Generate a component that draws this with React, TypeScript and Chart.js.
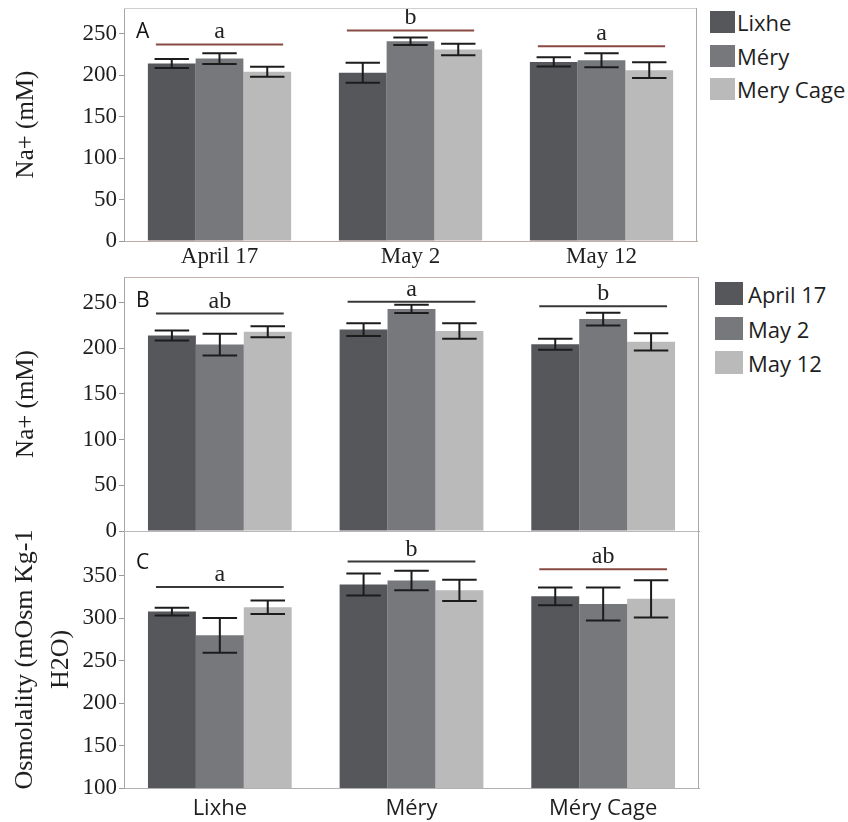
import React, { useEffect, useRef } from 'react';
import { Chart, registerables } from 'chart.js';

Chart.register(...registerables);

const SERIF = '"Liberation Serif", "Times New Roman", serif';
const SANS = '"Open Sans", "Noto Sans", sans-serif';

// ---------- Panel A: Na+ by date, series = site ----------
const datesA = ['April 17', 'May 2', 'May 12'];
const sitesA = ['Lixhe', 'Méry', 'Mery Cage'];
const naA_Lixhe = [214, 203, 216];
const naA_Mery = [220, 241, 218];
const naA_MeryCage = [204, 231, 206];
const naA_LixheErr = [5.5, 12, 5.5];
const naA_MeryErr = [6.5, 4.5, 8.5];
const naA_MeryCageErr = [6, 7, 9.5];
const sigA_levels = [237, 254, 235];
const sigA_letters = ['a', 'b', 'a'];
const ticksNa = [0, 50, 100, 150, 200, 250];

// ---------- Panel B: Na+ by site, series = date ----------
const sitesB = ['Lixhe', 'Méry', 'Méry Cage'];
const datesB = ['April 17', 'May 2', 'May 12'];
const naB_April17 = [214, 220.5, 204.5];
const naB_May2 = [204, 243, 232];
const naB_May12 = [218, 219, 207];
const naB_April17Err = [5.5, 7, 6];
const naB_May2Err = [12, 4.5, 7];
const naB_May12Err = [6, 8.5, 9.5];
const sigB_levels = [238, 251, 246];
const sigB_letters = ['ab', 'a', 'b'];

// ---------- Panel C: Osmolality by site, series = date ----------
const sitesC = ['Lixhe', 'Méry', 'Méry Cage'];
const osmC_April17 = [308, 340, 326];
const osmC_May2 = [280, 344.5, 317];
const osmC_May12 = [313, 333, 323];
const osmC_April17Err = [4.5, 13, 10.5];
const osmC_May2Err = [20.5, 11.5, 19.5];
const osmC_May12Err = [8, 12.5, 22];
const sigC_levels = [337, 367, 358];
const sigC_letters = ['a', 'b', 'ab'];
const ticksOsm = [100, 150, 200, 250, 300, 350];

const BAR_COLORS = ['#55575b', '#77787c', '#bababa'];
const RED_LINE = '#8a4a44';
const DARK_LINE = '#383838';

type PanelCfg = {
  labels: string[];
  series: string[];
  values: number[][];
  errors: number[][];
  sigLevels: number[];
  sigLetters: string[];
  sigColors: string[];
  panelLetter: string;
  panelLetterDy: number;
  yMin: number;
  yMax: number;
  yTicks: number[];
  yTitle: string | string[];
  yTitleLineHeight: number;
  yTitlePad: number;
  yTitleSize: number;
  xLabelsShow: boolean;
  xFont: string;
  xFontSize: number;
  xPad: number;
  xHeight: number;
  padTop: number;
  padRight: number;
  xBorderColor: string;
  topBorderColor: string;
};

function makePlugins(cfg: PanelCfg) {
  const errorBars = {
    id: 'errorBars',
    afterDatasetsDraw(chart: any) {
      const { ctx } = chart;
      const y = chart.scales.y;
      ctx.save();
      ctx.strokeStyle = '#1c1c1c';
      ctx.lineWidth = 2;
      chart.data.datasets.forEach((ds: any, i: number) => {
        const meta = chart.getDatasetMeta(i);
        meta.data.forEach((el: any, j: number) => {
          const v = ds.data[j] as number;
          const e = cfg.errors[i][j];
          const x = el.x;
          const half = el.width * 0.36;
          const yt = y.getPixelForValue(v + e);
          const yb = y.getPixelForValue(v - e);
          ctx.beginPath();
          ctx.moveTo(x, yt);
          ctx.lineTo(x, yb);
          ctx.moveTo(x - half, yt);
          ctx.lineTo(x + half, yt);
          ctx.moveTo(x - half, yb);
          ctx.lineTo(x + half, yb);
          ctx.stroke();
        });
      });
      ctx.restore();
    },
  };

  const sig = {
    id: 'sigLines',
    afterDatasetsDraw(chart: any) {
      const { ctx, chartArea } = chart;
      const y = chart.scales.y;
      const n = chart.data.datasets.length;
      const first = chart.getDatasetMeta(0);
      const last = chart.getDatasetMeta(n - 1);
      ctx.save();
      cfg.sigLevels.forEach((lv, j) => {
        const a = first.data[j] as any;
        const b = last.data[j] as any;
        const l = a.x - a.width / 2 + 8;
        const r = b.x + b.width / 2 - 8;
        const py = y.getPixelForValue(lv);
        ctx.strokeStyle = cfg.sigColors[j];
        ctx.lineWidth = 2;
        ctx.beginPath();
        ctx.moveTo(l, py);
        ctx.lineTo(r, py);
        ctx.stroke();
        ctx.fillStyle = '#222';
        ctx.font = `24px ${SERIF}`;
        ctx.textAlign = 'center';
        ctx.textBaseline = 'alphabetic';
        ctx.fillText(cfg.sigLetters[j], (l + r) / 2, py - 6);
      });
      ctx.fillStyle = '#111';
      ctx.font = `21px ${SANS}`;
      ctx.textAlign = 'left';
      ctx.textBaseline = 'alphabetic';
      ctx.fillText(cfg.panelLetter, chartArea.left + 12, chartArea.top + cfg.panelLetterDy);
      ctx.restore();
    },
  };

  const frame = {
    id: 'frame',
    afterDraw(chart: any) {
      const { ctx, chartArea } = chart;
      ctx.save();
      ctx.lineWidth = 1;
      ctx.strokeStyle = cfg.topBorderColor;
      ctx.beginPath();
      ctx.moveTo(chartArea.left, chartArea.top + 0.5);
      ctx.lineTo(chartArea.right, chartArea.top + 0.5);
      ctx.stroke();
      ctx.strokeStyle = '#a9a9a9';
      ctx.beginPath();
      ctx.moveTo(chartArea.right - 0.5, chartArea.top);
      ctx.lineTo(chartArea.right - 0.5, chartArea.bottom);
      ctx.stroke();
      ctx.restore();
    },
  };
  return [errorBars, sig, frame];
}

function PanelChart({ cfg, width, height, top }: { cfg: PanelCfg; width: number; height: number; top: number }) {
  const ref = useRef<HTMLCanvasElement | null>(null);
  useEffect(() => {
    if (!ref.current) return;
    const chart = new Chart(ref.current, {
      type: 'bar',
      data: {
        labels: cfg.labels,
        datasets: cfg.series.map((name, i) => ({
          label: name,
          data: cfg.values[i],
          backgroundColor: BAR_COLORS[i],
          borderWidth: 0,
          categoryPercentage: 0.75,
          barPercentage: 1.0,
        })),
      },
      options: {
        responsive: false,
        animation: false,
        devicePixelRatio: 1,
        layout: { padding: { top: cfg.padTop, right: cfg.padRight, left: 0, bottom: 0 } },
        plugins: {
          legend: { display: false },
          tooltip: { enabled: false },
        },
        scales: {
          x: {
            grid: { display: false, drawTicks: false },
            border: { display: true, color: cfg.xBorderColor, width: 1 },
            ticks: {
              display: cfg.xLabelsShow,
              font: { family: cfg.xFont, size: cfg.xFontSize },
              color: '#1e1e1e',
              padding: cfg.xPad,
            },
            afterFit: (s: any) => {
              s.height = cfg.xHeight;
              s.paddingLeft = 0;
              s.paddingRight = 0;
            },
          },
          y: {
            min: cfg.yMin,
            max: cfg.yMax,
            afterBuildTicks: (s: any) => {
              s.ticks = cfg.yTicks.map((v) => ({ value: v }));
            },
            ticks: {
              font: { family: SERIF, size: 23 },
              color: '#1e1e1e',
              padding: 2,
            },
            grid: { drawOnChartArea: false, drawTicks: true, tickLength: 5, color: '#9a9a9a' },
            border: { display: true, color: '#a6a6a6', width: 1 },
            title: {
              display: true,
              text: cfg.yTitle,
              font: { family: SERIF, size: cfg.yTitleSize, lineHeight: cfg.yTitleLineHeight },
              color: '#1e1e1e',
              padding: { top: cfg.yTitlePad, bottom: 0 },
            },
            afterFit: (s: any) => {
              s.width = 124;
              s.paddingTop = 0;
              s.paddingBottom = 0;
            },
          },
        },
      },
      plugins: makePlugins(cfg),
    } as any);
    return () => chart.destroy();
  }, [cfg]);
  return (
    <canvas
      ref={ref}
      width={width}
      height={height}
      style={{ position: 'absolute', left: 0, top, width, height }}
    />
  );
}

const cfgA: PanelCfg = {
  labels: datesA,
  series: sitesA,
  values: [naA_Lixhe, naA_Mery, naA_MeryCage],
  errors: [naA_LixheErr, naA_MeryErr, naA_MeryCageErr],
  sigLevels: sigA_levels,
  sigLetters: sigA_letters,
  sigColors: [RED_LINE, RED_LINE, RED_LINE],
  panelLetter: 'A',
  panelLetterDy: 30,
  yMin: 0,
  yMax: 281,
  yTicks: ticksNa,
  yTitle: 'Na+ (mM)',
  yTitleLineHeight: 1.2,
  yTitlePad: 11,
  yTitleSize: 25,
  xLabelsShow: true,
  xFont: SERIF,
  xFontSize: 23,
  xPad: 2,
  xHeight: 31,
  padTop: 8,
  padRight: 3,
  xBorderColor: '#c3aaa6',
  topBorderColor: '#cfcfcf',
};

const cfgB: PanelCfg = {
  labels: sitesB,
  series: datesB,
  values: [naB_April17, naB_May2, naB_May12],
  errors: [naB_April17Err, naB_May2Err, naB_May12Err],
  sigLevels: sigB_levels,
  sigLetters: sigB_letters,
  sigColors: [DARK_LINE, DARK_LINE, DARK_LINE],
  panelLetter: 'B',
  panelLetterDy: 30,
  yMin: 0,
  yMax: 278,
  yTicks: ticksNa,
  yTitle: 'Na+ (mM)',
  yTitleLineHeight: 1.2,
  yTitlePad: 11,
  yTitleSize: 25,
  xLabelsShow: false,
  xFont: SANS,
  xFontSize: 22,
  xPad: 2,
  xHeight: 19,
  padTop: 7,
  padRight: 3,
  xBorderColor: '#b0b0b0',
  topBorderColor: '#c6b2ae',
};

const cfgC: PanelCfg = {
  labels: sitesC,
  series: datesB,
  values: [osmC_April17, osmC_May2, osmC_May12],
  errors: [osmC_April17Err, osmC_May2Err, osmC_May12Err],
  sigLevels: sigC_levels,
  sigLetters: sigC_letters,
  sigColors: [DARK_LINE, DARK_LINE, RED_LINE],
  panelLetter: 'C',
  panelLetterDy: 38,
  yMin: 100,
  yMax: 403,
  yTicks: ticksOsm,
  yTitle: ['Osmolality (mOsm Kg-1', 'H2O)'],
  yTitleLineHeight: 1.4,
  yTitlePad: 7,
  yTitleSize: 26,
  xLabelsShow: true,
  xFont: SANS,
  xFontSize: 22,
  xPad: 8,
  xHeight: 34,
  padTop: 11,
  padRight: 3,
  xBorderColor: '#b0b0b0',
  topBorderColor: '#b8b8b8',
};

function Legend({ items, left, tops, sw, sh, textLeft }: { items: string[]; left: number; tops: number[]; sw: number; sh: number; textLeft: number }) {
  return (
    <>
      {items.map((name, i) => (
        <div key={name} style={{ position: 'absolute', left, top: tops[i], height: sh, display: 'flex', alignItems: 'center' }}>
          <div style={{ width: sw, height: sh, background: BAR_COLORS[i] }} />
          <span
            style={{
              position: 'absolute',
              left: textLeft - left,
              fontFamily: SANS,
              fontSize: 22,
              lineHeight: 1,
              color: '#1e1e1e',
              whiteSpace: 'nowrap',
            }}
          >
            {name}
          </span>
        </div>
      ))}
    </>
  );
}

export default function App() {
  return (
    <div style={{ position: 'absolute', left: 0, top: 0, width: 848, height: 822, background: '#fff', overflow: 'hidden' }}>
      <PanelChart cfg={cfgA} width={700} height={272} top={0} />
      <PanelChart cfg={cfgB} width={702} height={280} top={270} />
      <PanelChart cfg={cfgC} width={702} height={302} top={520} />
      <Legend items={sitesA} left={710} tops={[11, 45, 78]} sw={25} sh={22} textLeft={737} />
      <Legend items={datesB} left={715} tops={[282, 317, 351]} sw={28} sh={23} textLeft={748} />
    </div>
  );
}
